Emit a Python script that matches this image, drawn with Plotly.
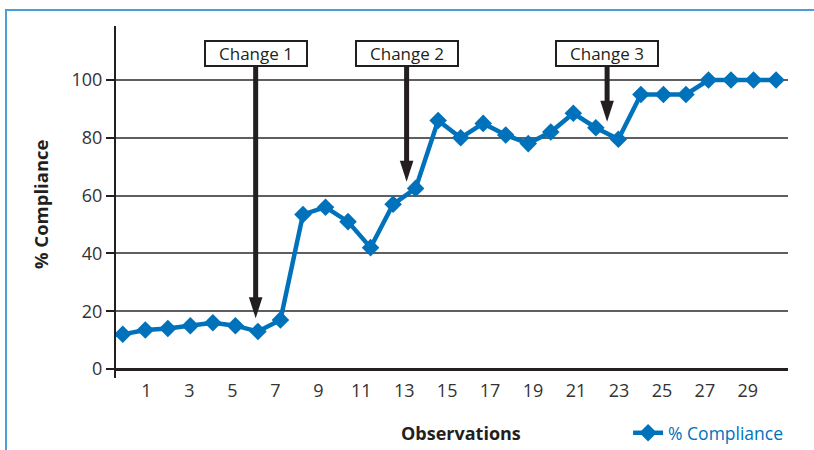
import plotly.graph_objects as go

# Compliance observed at each of 30 observations
observations = list(range(1, 31))
compliance = [12, 13.5, 14, 15, 16, 15, 13, 17, 53.5, 56, 51, 42, 57, 62.5, 86,
              80, 85, 81, 78, 82, 88.5, 83.5, 79.5, 95, 95, 95, 100, 100, 100, 100]

# Interventions: label, observation where the arrow lands, and the level it points to
change_labels = ["Change 1", "Change 2", "Change 3"]
change_obs = [6.9, 13.6, 22.5]
change_tip = [17.6, 64.8, 85.6]

# Category labels printed under the x axis
x_tick_values = list(range(1, 30, 2))
x_tick_labels = [str(v) for v in x_tick_values]
y_ticks = [0, 20, 40, 60, 80, 100]

BLUE = "#0072BC"
INK = "#231F20"
FONT = "Open Sans"

fig = go.Figure()

fig.add_trace(go.Scatter(
    x=observations, y=compliance, mode="lines+markers", name="% Compliance",
    line=dict(color=BLUE, width=4.5),
    marker=dict(symbol="diamond", size=13.5, color=BLUE),
))

# Arrow heads at the intervention points
fig.add_trace(go.Scatter(
    x=change_obs, y=change_tip, mode="markers", showlegend=False, hoverinfo="skip",
    marker=dict(symbol="arrow", angle=180, size=22, color=INK),
))

# Empty trace that carries the category label axis
fig.add_trace(go.Scatter(
    x=x_tick_values, y=[None] * len(x_tick_values), xaxis="x2", mode="markers",
    showlegend=False, hoverinfo="skip",
))

# Labelled boxes with shafts down to the arrow heads
BOX_LEVEL = 109.2
for label, cx, tip in zip(change_labels, change_obs, change_tip):
    fig.add_annotation(
        x=cx, y=tip, xref="x", yref="y",
        ax=cx, ay=BOX_LEVEL, axref="x", ayref="y",
        text=label, showarrow=True, arrowhead=0, arrowwidth=5,
        arrowcolor=INK, standoff=12,
        bordercolor=INK, borderwidth=2, borderpad=1, bgcolor="white",
        width=98, height=21, font=dict(family=FONT, size=17, color=INK),
    )

# Axis titles
fig.add_annotation(
    text="<b>% Compliance</b>", xref="paper", yref="paper", x=-0.1131, y=0.494,
    xanchor="center", yanchor="middle",
    textangle=-90, showarrow=False, font=dict(family=FONT, size=18.5, color=INK),
)
fig.add_annotation(
    text="<b>Observations</b>", xref="paper", yref="paper", x=0.5134, y=-0.156,
    xanchor="center", yanchor="middle",
    showarrow=False, font=dict(family=FONT, size=18, color=INK),
)

# Light blue frame along the top and left edges
fig.add_shape(
    type="path", xref="paper", yref="paper",
    path="M -0.1637,-0.21 L -0.1637,1.0455 L 1.04,1.0455",
    line=dict(color="#4A9FD8", width=2),
)

fig.update_layout(
    width=814, height=450,
    margin=dict(l=116, r=26, t=26, b=72, autoexpand=False),
    paper_bgcolor="white", plot_bgcolor="white",
    font=dict(family=FONT, size=18, color="#333333"),
    showlegend=True,
    legend=dict(
        orientation="h", x=0.762, y=-0.156, xanchor="left", yanchor="middle",
        font=dict(family=FONT, size=17.5, color=BLUE), bgcolor="rgba(0,0,0,0)",
    ),
    xaxis=dict(
        range=[0.70, 30.53], showticklabels=False, showgrid=False,
        zeroline=False, showline=False, ticks="",
    ),
    xaxis2=dict(
        overlaying="x", side="bottom", anchor="y",
        range=[-0.42, 30.87], tickmode="array",
        tickvals=x_tick_values, ticktext=x_tick_labels,
        showgrid=False, zeroline=False, showline=False, ticks="",
        tickfont=dict(family=FONT, size=18, color="#333333"),
    ),
    yaxis=dict(
        range=[-3.11, 118.7], tickmode="array", tickvals=y_ticks,
        showgrid=True, gridcolor="#5E5F61", gridwidth=1.5,
        zeroline=True, zerolinecolor=INK, zerolinewidth=3,
        showline=True, linecolor=INK, linewidth=2,
        ticks="outside", ticklen=8, tickwidth=1.5, tickcolor=INK,
        tickfont=dict(family=FONT, size=18, color="#333333"),
    ),
)

fig.write_html("out.html")
